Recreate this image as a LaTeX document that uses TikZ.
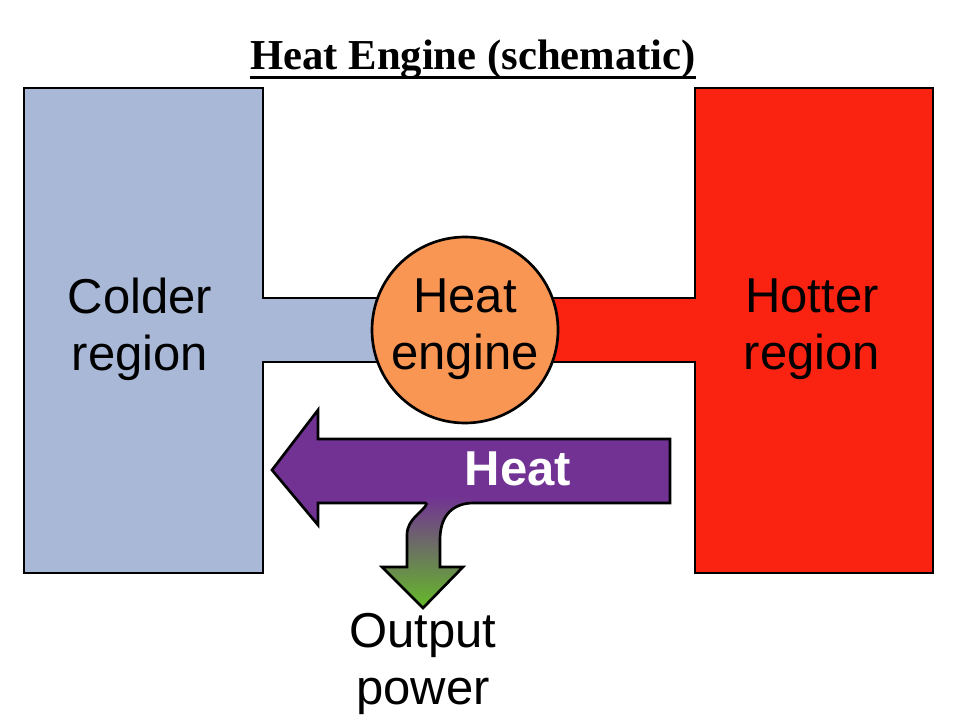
\documentclass[tikz,border=0pt]{standalone}
\usepackage{fontspec}
\setmainfont{Liberation Serif}
\newfontfamily\arialfont{Liberation Sans}
\definecolor{colderblue}{RGB}{168,184,214}
\definecolor{hotterred}{RGB}{250,35,18}
\definecolor{engineorange}{RGB}{249,150,84}
\definecolor{heatpurple}{RGB}{114,50,148}
\definecolor{powergreen}{RGB}{100,186,40}
\tikzset{every picture/.style={line width=0.75pt}}
\tikzset{
  outline/.style={draw=black,line width=2pt,line join=miter},
  label/.style={font=\arialfont\fontsize{36.75}{42.75}\selectfont,align=center,inner sep=0pt}
}

\begin{document}
\begin{tikzpicture}[x=0.75pt,y=0.75pt,yscale=-1,xscale=1]
\useasboundingbox (0,0) rectangle (960,720);

%Shape: Colder block with bar
\draw [outline, fill=colderblue] (24,88) -- (263,88) -- (263,298) -- (400,298) -- (400,362) -- (263,362) -- (263,573) -- (24,573) -- cycle ;
%Shape: Hotter block with bar
\draw [outline, fill=hotterred] (933,88) -- (695,88) -- (695,298) -- (530,298) -- (530,362) -- (695,362) -- (695,573) -- (933,573) -- cycle ;
%Shape: Circle
\draw [outline, fill=engineorange] (465,330) circle [radius=93] ;
%Shape: Heat arrow
\draw [outline, fill=heatpurple] (670,439) -- (318,439) -- (318,410) -- (272,470) -- (318,525) -- (318,503) -- (670,503) -- cycle ;
%Shape: Output arrow (fill)
\shade [top color=heatpurple, bottom color=powergreen] (424,496) -- (427,503) .. controls (424,512) and (407,518) .. (407,535) -- (407,567) -- (382,567) -- (423,608) -- (463,567) -- (440,567) -- (440,540) .. controls (440,518) and (450,505) .. (470,503) -- (473,496) -- cycle ;
%Shape: Output arrow (outline)
\draw [outline] (427,503) .. controls (424,512) and (407,518) .. (407,535) -- (407,567) -- (382,567) -- (423,608) -- (463,567) -- (440,567) -- (440,540) .. controls (440,518) and (450,505) .. (470,503) ;

% Text Node
\node [anchor=base, inner sep=0pt, font=\bfseries\fontsize{32}{38}\selectfont] (title) at (473,70) {Heat Engine (schematic)};
\draw [line width=2.2pt] ([yshift=5.5pt]title.base west) -- ([yshift=5.5pt]title.base east) ;
% Text Node
\node [label] (colder) at (140,329) {Colder\\region};
% Text Node
\node [label] (engine) at (465,329) {Heat\\engine};
% Text Node
\node [label] (hotter) at (812,329) {Hotter\\region};
% Text Node
\node [label, text=white, font=\arialfont\bfseries\fontsize{36.75}{42.75}\selectfont] (heat) at (518,469) {Heat};
% Text Node
\node [label] (power) at (423,664) {Output\\power};

\end{tikzpicture}
\end{document}
